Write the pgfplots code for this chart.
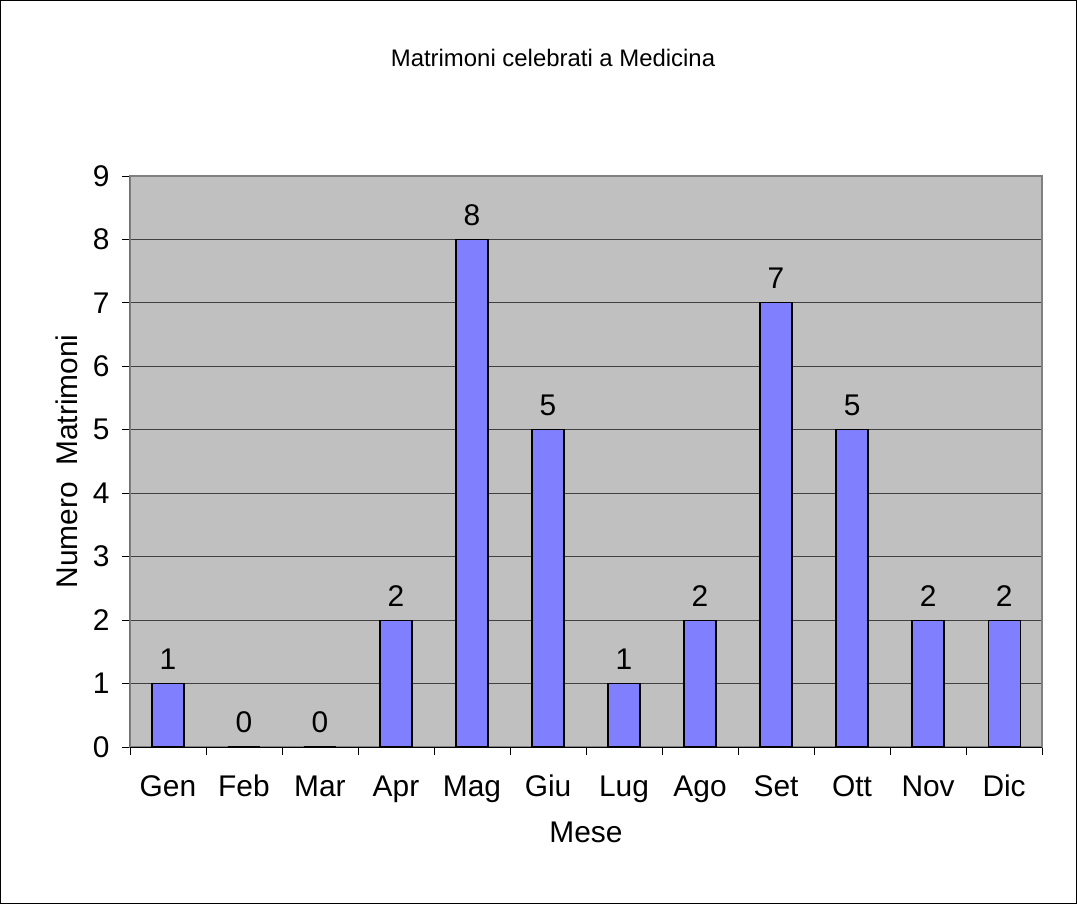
\documentclass[border=0pt]{standalone}
\usepackage{pgfplots}
\pgfplotsset{compat=1.18}
\usepackage{fontspec}
\setmainfont{Liberation Sans}
\definecolor{plotbg}{HTML}{C0C0C0}
\definecolor{barfill}{HTML}{8080FF}

\begin{document}
\begin{tikzpicture}[x=1bp,y=1bp]
\draw[black, line width=0.8bp] (0.5,0.5) rectangle (1076.5,903.5);
\node[font=\fontsize{24}{26}\selectfont] at (553,846) {Matrimoni celebrati a Medicina};
\begin{axis}[
    at={(130bp,157bp)}, anchor=south west,
    scale only axis,
    width=912bp, height=571bp,
    xmin=-0.5, xmax=11.5,
    ymin=0, ymax=9,
    ytick={0,...,9},
    xtick={0,...,11},
    xticklabels={Gen,Feb,Mar,Apr,Mag,Giu,Lug,Ago,Set,Ott,Nov,Dic},
    minor xtick={-0.5,0.5,...,11.5},
    major x tick style={draw=none},
    tick align=outside,
    major tick length=8bp,
    minor tick length=8bp,
    xtick pos=bottom, ytick pos=left,
    tick style={black, line width=0.8bp},
    ymajorgrids,
    grid style={black!75, line width=0.8bp},
    axis line style={gray, line width=1.5bp},
    axis background/.style={fill=plotbg},
    tick label style={font=\fontsize{30}{32}\selectfont},
    xticklabel style={anchor=north, text height=22bp, text depth=7bp, yshift=-16bp},
    yticklabel style={xshift=-9bp},
    /pgf/number format/assume math mode=true,
    xlabel={Mese}, ylabel={Numero\ \ Matrimoni},
    label style={font=\fontsize{30}{32}\selectfont},
    xlabel style={yshift=-12bp},
    ylabel style={yshift=8bp},
    ybar, bar width=32bp,
    nodes near coords,
    every node near coord/.append style={font=\fontsize{30}{32}\selectfont, black, yshift=10bp},
]
\addplot[fill=barfill, draw=black, line width=1.2bp] coordinates {
(0,1)(1,0)(2,0)(3,2)(4,8)(5,5)(6,1)(7,2)(8,7)(9,5)(10,2)(11,2)};
\draw[black, line width=1bp] (rel axis cs:0,1) -- (rel axis cs:0,0) -- (rel axis cs:1,0);
\end{axis}
\end{tikzpicture}
\end{document}
